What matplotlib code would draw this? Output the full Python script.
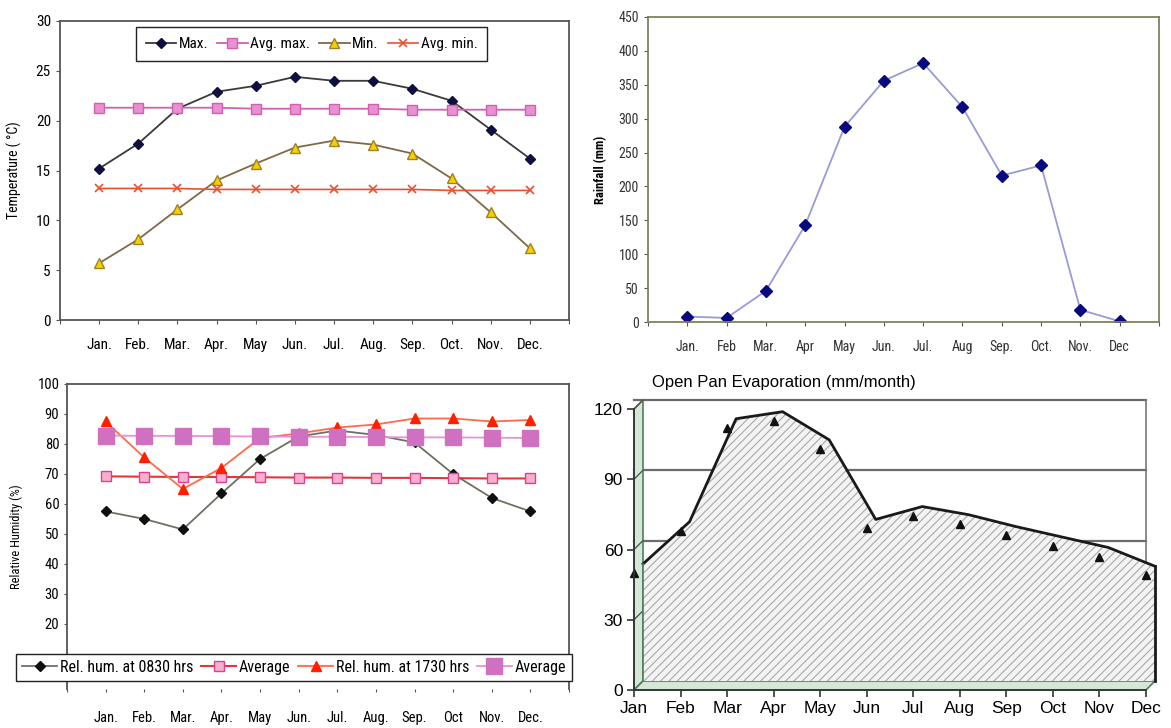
import numpy as np
import matplotlib
matplotlib.use("Agg")
import matplotlib.pyplot as plt
from matplotlib.patches import Polygon

plt.rcParams["font.family"] = ["Roboto Condensed", "DejaVu Sans"]
plt.rcParams["hatch.linewidth"] = 0.8

W, H = 1171, 728

# ---- data ----
months_tl = ["Jan.", "Feb.", "Mar.", "Apr.", "May", "Jun.", "Jul.", "Aug.", "Sep.", "Oct.", "Nov.", "Dec."]
temp_max = [15.2, 17.7, 21.2, 22.9, 23.5, 24.4, 24.0, 24.0, 23.2, 22.0, 19.1, 16.2]
temp_avg_max = [21.3, 21.3, 21.3, 21.3, 21.2, 21.2, 21.2, 21.2, 21.1, 21.1, 21.1, 21.1]
temp_min = [5.7, 8.1, 11.1, 14.0, 15.7, 17.3, 18.0, 17.6, 16.7, 14.2, 10.8, 7.2]
temp_avg_min = [13.2, 13.2, 13.2, 13.1, 13.1, 13.1, 13.1, 13.1, 13.1, 13.0, 13.0, 13.0]

months_tr = ["Jan.", "Feb", "Mar.", "Apr", "May", "Jun.", "Jul.", "Aug", "Sep.", "Oct.", "Nov.", "Dec"]
rainfall = [8, 6, 46, 143, 288, 356, 382, 317, 216, 231, 18, 1]

months_bl = ["Jan.", "Feb.", "Mar.", "Apr.", "May", "Jun.", "Jul.", "Aug.", "Sep.", "Oct", "Nov.", "Dec."]
rh_0830 = [57.5, 55.0, 51.5, 63.5, 75.0, 82.5, 84.5, 83.0, 80.5, 70.0, 62.0, 57.5]
rh_0830_avg = [69.2, 69.1, 69.0, 69.0, 68.9, 68.8, 68.8, 68.7, 68.7, 68.6, 68.5, 68.5]
rh_1730 = [87.5, 75.5, 65.0, 72.0, 82.0, 83.5, 85.5, 86.5, 88.5, 88.5, 87.5, 88.0]
rh_1730_avg = [82.8, 82.7, 82.7, 82.6, 82.5, 82.4, 82.4, 82.3, 82.2, 82.2, 82.1, 82.0]

months_br = ["Jan", "Feb", "Mar", "Apr", "May", "Jun", "Jul", "Aug", "Sep", "Oct", "Nov", "Dec"]
evaporation = [50, 68, 112, 115, 103, 69, 74.5, 71, 66, 61.5, 57, 49]

x = np.arange(12)
fig = plt.figure(figsize=(W / 100, H / 100), dpi=100)


def frac(left, top, right, bottom):
    return [left / W, 1 - bottom / H, (right - left) / W, (bottom - top) / H]


def style_frame(ax, color="#555555"):
    for s in ax.spines.values():
        s.set_color(color)
        s.set_linewidth(1.3)


# ---- top-left: temperature ----
ax1 = fig.add_axes(frac(60, 21, 569, 320))
ax1.plot(x, temp_max, color="#3a3a3a", lw=1.3, marker="D", ms=5.5, mfc="#101040", mec="#101040", label="Max.")
ax1.plot(x, temp_avg_max, color="#d060b0", lw=1.3, marker="s", ms=6.5, mfc="#e890d0", mec="#d060b0", label="Avg. max.")
ax1.plot(x, temp_min, color="#806848", lw=1.3, marker="^", ms=6.5, mfc="#f5d000", mec="#a08020", label="Min.")
ax1.plot(x, temp_avg_min, color="#e85030", lw=1.2, marker="x", ms=6, mew=1.2, mec="#e85030", label="Avg. min.")
ax1.set_xlim(-1, 12)
ax1.set_ylim(0, 30)
ax1.set_yticks(range(0, 31, 5))
ax1.set_xticks(np.arange(-1, 13), [""] + months_tl + [""])
ax1.tick_params(labelsize=11, length=3, color="#555555")
ax1.tick_params(axis="x", pad=10)
ax1.set_ylabel("Temperature ( °C)", fontsize=10, labelpad=10)
style_frame(ax1)
fig.legend(*ax1.get_legend_handles_labels(), loc="center", bbox_to_anchor=(311.5 / W, 1 - 44 / H),
           ncol=4, fontsize=11, frameon=True, fancybox=False, edgecolor="#222222", framealpha=1,
           handlelength=2.0, handletextpad=0.15, columnspacing=0.6, borderpad=0.65)

# ---- top-right: rainfall ----
ax2 = fig.add_axes(frac(648, 17, 1159, 322))
ax2.plot(x, rainfall, color="#9a9ad8", lw=1.3, marker="D", ms=6.5, mfc="#0a0a80", mec="#0a0a80")
ax2.set_xlim(-1, 12)
ax2.set_ylim(0, 450)
ax2.set_yticks(range(0, 451, 50))
ax2.set_xticks(np.arange(-1, 13), [""] + months_tr + [""])
ax2.tick_params(labelsize=10, length=3, color="#555555", labelcolor="#333333")
ax2.tick_params(axis="x", pad=10)
ax2.set_ylabel("Rainfall (mm)", fontsize=9, fontweight="bold", labelpad=8)
style_frame(ax2, "#808060")

# ---- bottom-left: relative humidity ----
ax3 = fig.add_axes(frac(67, 384, 569, 689))
ax3.plot(x, rh_0830, color="#707060", lw=1.3, marker="D", ms=5.5, mfc="#101010", mec="#101010",
         label="Rel. hum. at 0830 hrs")
ax3.plot(x, rh_0830_avg, color="#e03838", lw=1.5, marker="s", ms=7, mfc="#f4b0d0", mec="#e0408a",
         label="Average")
ax3.plot(x, rh_1730, color="#ff6a48", lw=1.3, marker="^", ms=7, mfc="#ff2000", mec="#ff2000",
         label="Rel. hum. at 1730 hrs")
ax3.plot(x, rh_1730_avg, color="#e890d8", lw=1.3, marker="s", ms=11, mfc="#d070c0", mec="#d070c0",
         label="Average")
ax3.set_xlim(-1, 12)
ax3.set_ylim(-1.7, 100)
ax3.set_yticks(range(20, 101, 10))
ax3.set_xticks(np.arange(-1, 13), [""] + months_bl + [""])
ax3.tick_params(labelsize=10.5, length=2, color="#555555")
ax3.tick_params(axis="x", pad=14)
ax3.set_ylabel("Relative Humidity (%)", fontsize=9, labelpad=10)
style_frame(ax3)
ax3.spines["bottom"].set_visible(False)
fig.legend(*ax3.get_legend_handles_labels(), loc="center", bbox_to_anchor=(294 / W, 1 - 667.5 / H),
           ncol=4, fontsize=11.5, frameon=True, fancybox=False, edgecolor="#222222", framealpha=1,
           handlelength=2.2, handletextpad=0.15, columnspacing=0.5, borderpad=0.4)

# ---- bottom-right: open pan evaporation (pseudo 3-D area) ----
l4, t4, r4, b4 = 634, 409, 1146, 690
ax4 = fig.add_axes(frac(l4, t4, r4, b4))
ax4.set_xlim(0, 11)
ax4.set_ylim(0, 120)
depth_px = 9
dx = depth_px / ((r4 - l4) / 11)
dy = depth_px / ((b4 - t4) / 120)
green_face, green_edge = "#d5e8d8", "#4f7f5a"

# back wall grid lines with their connectors on the side wall
for v in [30, 60, 90, 120]:
    ax4.plot([0, 11], [v + dy, v + dy], color="#6b6b6b", lw=1.6, zorder=1, clip_on=False)
    ax4.plot([0, dx], [v, v + dy], color="#555555", lw=1.0, zorder=3, clip_on=False)
ax4.plot([11, 11], [dy, 120 + dy], color="#777777", lw=1.2, zorder=1, clip_on=False)

# side wall and floor
ax4.add_patch(Polygon([(0, 0), (0, 120), (dx, 120 + dy), (dx, dy)], closed=True,
                      facecolor=green_face, edgecolor=green_edge, lw=1.2, zorder=2, clip_on=False))
ax4.add_patch(Polygon([(0, 0), (11, 0), (11 + dx, dy), (dx, dy)], closed=True,
                      facecolor=green_face, edgecolor=green_edge, lw=1.2, zorder=2, clip_on=False))

# hatched area surface
xa = x + dx
ya = np.array(evaporation) + dy
ax4.fill_between(xa, dy, ya, facecolor="#f3f3f3", edgecolor="#a8a8a8", hatch="////", lw=0,
                 zorder=4, clip_on=False)
ax4.plot(xa, ya, color="#1a1a1a", lw=2.0, zorder=5, clip_on=False)
ax4.plot([xa[-1], xa[-1]], [dy, ya[-1]], color="#1a1a1a", lw=2.0, zorder=5, clip_on=False)
ax4.plot([xa[0], xa[0]], [dy, ya[0]], color=green_edge, lw=1.2, zorder=5, clip_on=False)

# data markers
ax4.plot(x, evaporation, ls="none", marker="^", ms=6, color="#111111", zorder=6, clip_on=False)

ax4.set_xticks(x, months_br)
ax4.set_yticks(range(0, 121, 30))
ax4.tick_params(labelsize=12.5, length=5, width=1.2, color="#333333", pad=3)
for lab in ax4.get_xticklabels() + ax4.get_yticklabels():
    lab.set_family(["Liberation Sans", "DejaVu Sans"])
for s in ["top", "right"]:
    ax4.spines[s].set_visible(False)
for s in ["left", "bottom"]:
    ax4.spines[s].set_color("#333333")
    ax4.spines[s].set_linewidth(1.3)
    ax4.spines[s].set_zorder(7)
ax4.patch.set_alpha(0)
fig.text(652 / W, 1 - 383 / H, "Open Pan Evaporation (mm/month)", fontsize=12,
         family=["Liberation Sans", "DejaVu Sans"], ha="left", va="center")

fig.savefig("out.png", dpi=100)
